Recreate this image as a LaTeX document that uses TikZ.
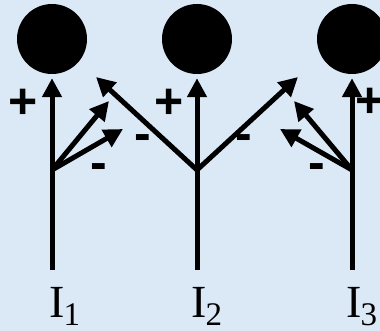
\documentclass[tikz,border=0pt]{standalone}
\usepackage{fontspec}
\setmainfont{Liberation Serif}
\newfontfamily\signfont{Liberation Sans}
\usetikzlibrary{arrows.meta}
\definecolor{paleblue}{RGB}{219,233,247}
\begin{document}
\begin{tikzpicture}[x=1pt,y=-1pt,
  charge/.style={circle,fill=black,minimum size=70pt,inner sep=0pt},
  flow/.style={line width=5pt,-{Triangle[length=19pt,width=19pt]}},
  sign/.style={font=\signfont\bfseries\fontsize{50}{50}\selectfont,inner sep=0pt},
  current/.style={font=\fontsize{46}{46}\selectfont,anchor=base west,inner sep=0pt}]
\useasboundingbox (0,0) rectangle (380,331);
\clip (0,0) rectangle (380,331);
\fill[paleblue] (0,0) rectangle (380,331);

% three charges
\node[charge] (c1) at (52,39) {};
\node[charge] (c2) at (197,39) {};
\node[charge] (c3) at (352,39) {};

% wire ends and junctions
\coordinate (b1) at (52,270);
\coordinate (b2) at (197,270);
\coordinate (b3) at (352,270);
\coordinate (j1) at (52,170);
\coordinate (j2) at (197,170);
\coordinate (j3) at (352,170);

% arrow tips
\coordinate (t1a) at (109,101);
\coordinate (t1b) at (123,129);
\coordinate (t2l) at (96,77);
\coordinate (t2r) at (298,77);
\coordinate (t3a) at (294,101);
\coordinate (t3b) at (280,129);

% main wires towards the charges
\draw[flow,shorten >=4pt] (b1) -- (c1.south);
\draw[flow,shorten >=4pt] (b2) -- (c2.south);
\draw[flow,shorten >=4pt] (b3) -- (c3.south);

% branches
\draw[flow] (j1) -- (t1a);
\draw[flow] (j1) -- (t1b);
\draw[flow] (j2) -- (t2l);
\draw[flow] (j2) -- (t2r);
\draw[flow] (j3) -- (t3a);
\draw[flow] (j3) -- (t3b);

% signs
\node[sign] (p1) at (23,104) {+};
\node[sign] (p2) at (169,104) {+};
\node[sign] (p3) at (370,103) {+};
\node[sign] (m1) at (99,172) {-};
\node[sign] (m2) at (143,143) {-};
\node[sign] (m3) at (244,143) {-};
\node[sign] (m4) at (317,172) {-};

% currents
\node[current] (i1) at (49,317) {I\kern-1pt{\fontsize{33}{33}\selectfont\raisebox{-8pt}{1}}};
\node[current] (i2) at (191,317) {I\kern-1pt{\fontsize{33}{33}\selectfont\raisebox{-8pt}{2}}};
\node[current] (i3) at (346,317) {I\kern-1pt{\fontsize{33}{33}\selectfont\raisebox{-8pt}{3}}};
\end{tikzpicture}
\end{document}
